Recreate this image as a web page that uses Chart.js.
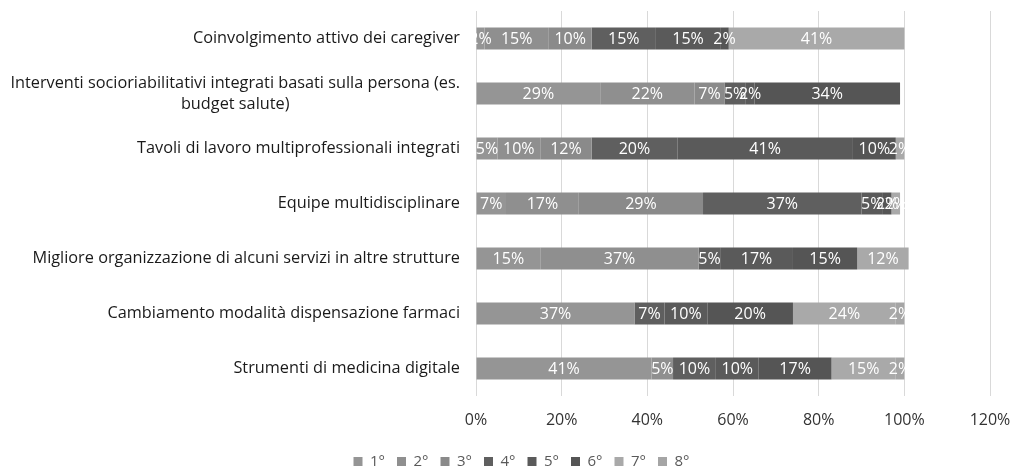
<!DOCTYPE html>
<html>
<head>
<meta charset="utf-8">
<script src="https://cdn.jsdelivr.net/npm/chart.js@4.4.1/dist/chart.umd.min.js"></script>
<style>
html,body{margin:0;padding:0;background:#fff;}
#wrap{width:1011px;height:467px;position:relative;}
</style>
</head>
<body>
<div id="wrap"><canvas id="c" width="1011" height="467"></canvas></div>
<script>
const categories = [
  ["Coinvolgimento attivo dei caregiver"],
  ["Interventi socioriabilitativi integrati basati sulla persona (es.", "budget salute)"],
  ["Tavoli di lavoro multiprofessionali integrati"],
  ["Equipe multidisciplinare"],
  ["Migliore organizzazione di alcuni servizi in altre strutture"],
  ["Cambiamento modalità dispensazione farmaci"],
  ["Strumenti di medicina digitale"]
];
const seriesNames = ["1°","2°","3°","4°","5°","6°","7°","8°"];
const s1 = [2, 29, 5, 7, 15, 37, 41];
const s2 = [15, 22, 10, 17, 37, 0, 5];
const s3 = [10, 7, 12, 29, 0, 0, 0];
const s4 = [15, 5, 20, 37, 5, 7, 10];
const s5 = [15, 2, 41, 5, 17, 10, 10];
const s6 = [2, 34, 10, 2, 15, 20, 17];
const s7 = [41, 0, 2, 2, 12, 24, 15];
const s8 = [0, 0, 0, 0, 0, 2, 2];
const xTicks = [0, 20, 40, 60, 80, 100, 120];

const colors = ["#959595","#8f8f8f","#8a8a8a","#5f5f5f","#5a5a5a","#555555","#a9a9a9","#a5a5a5"];
const seriesData = [s1,s2,s3,s4,s5,s6,s7,s8];
const FONT = "'Open Sans', Lato, sans-serif";

const labelPlugin = {
  id: 'segLabels',
  afterDatasetsDraw(chart) {
    const ctx = chart.ctx;
    const xs = chart.scales.x;
    const area = chart.chartArea;
    ctx.save();
    ctx.beginPath();
    ctx.rect(area.left, area.top, xs.getPixelForValue(100) + 2 - area.left, area.bottom - area.top);
    ctx.clip();
    ctx.fillStyle = '#ffffff';
    ctx.font = "16px " + FONT;
    ctx.textAlign = 'center';
    ctx.textBaseline = 'middle';
    chart.data.datasets.forEach((ds, di) => {
      const meta = chart.getDatasetMeta(di);
      meta.data.forEach((bar, i) => {
        const v = ds.data[i];
        if (!v) return;
        const cx = (bar.x + bar.base) / 2;
        ctx.fillText(v + '%', cx, bar.y + 1);
      });
    });
    ctx.restore();
  }
};

const catPlugin = {
  id: 'catLabels',
  afterDraw(chart) {
    const ctx = chart.ctx;
    const ys = chart.scales.y;
    ctx.save();
    ctx.font = "16.3px " + FONT;
    ctx.fillStyle = '#1a1a1a';
    ctx.textBaseline = 'middle';
    ctx.textAlign = 'center';
    const right = 460;
    const lh = 21;
    categories.forEach((lines, i) => {
      const y = ys.getPixelForValue(i);
      const w = Math.max(...lines.map(l => ctx.measureText(l).width));
      const cx = right - w / 2;
      const y0 = y - (lines.length - 1) * lh / 2;
      lines.forEach((l, k) => ctx.fillText(l, cx, y0 + k * lh));
    });
    ctx.restore();
  }
};

new Chart(document.getElementById('c'), {
  type: 'bar',
  data: {
    labels: categories.map(c => c.join(' ')),
    datasets: seriesNames.map((n, k) => ({
      label: n,
      data: seriesData[k],
      backgroundColor: colors[k],
      borderWidth: 0,
      categoryPercentage: 1,
      barPercentage: 0.4
    }))
  },
  options: {
    indexAxis: 'y',
    responsive: false,
    animation: false,
    layout: { padding: { top: 11, right: 0, left: 32, bottom: -12 } },
    scales: {
      x: {
        stacked: true,
        min: 0, max: 120,
        afterBuildTicks(scale) { scale.ticks = xTicks.map(v => ({ value: v })); },
        afterFit(scale) { scale.paddingRight = 21; scale.height = 46; },
        ticks: {
          callback: v => v + '%',
          color: '#333333',
          font: { family: FONT, size: 16 },
          padding: 15,
          maxRotation: 0
        },
        grid: { color: '#d9d9d9', drawTicks: false, lineWidth: 1 },
        border: { display: false }
      },
      y: {
        stacked: true,
        ticks: { display: false },
        grid: { display: false },
        border: { display: false },
        afterFit(scale) { scale.width = 444; }
      }
    },
    plugins: {
      legend: {
        position: 'bottom',
        labels: {
          boxWidth: 9, boxHeight: 9,
          color: '#595959',
          font: { family: FONT, size: 15 },
          padding: 12
        }
      },
      tooltip: { enabled: false }
    }
  },
  plugins: [labelPlugin, catPlugin]
});
</script>
</body>
</html>
